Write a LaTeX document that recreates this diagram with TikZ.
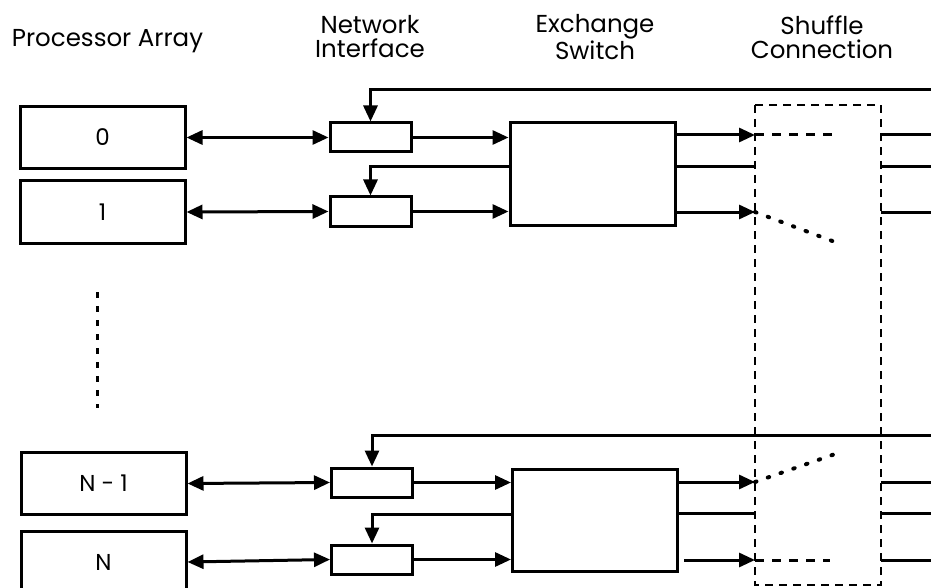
\documentclass[tikz,border=0pt]{standalone}
\usepackage{fontspec}
\setmainfont{Poppins}
\usetikzlibrary{arrows.meta,calc}
\begin{document}
\begin{tikzpicture}[x=1pt,y=-1pt,
  ln/.style={line width=3pt},
  tip/.style={ln,-{Triangle[length=16pt,width=14pt]}},
  both/.style={ln,{Triangle[length=16pt,width=14pt]}-{Triangle[length=16pt,width=14pt]}},
  box/.style={draw,line width=3pt,rectangle,inner sep=0pt},
  proc/.style={box,minimum width=165pt,minimum height=62pt,font=\fontsize{23}{24}\selectfont},
  ni/.style={box,minimum width=81pt,minimum height=29pt},
  sw/.style={box,minimum width=165pt,minimum height=102pt},
  title/.style={font=\fontsize{24.5}{24}\selectfont,align=center,inner sep=0pt},
  dsh/.style={line width=2.8pt,dash pattern=on 8pt off 6pt},
  indsh/.style={line width=3pt,dash pattern=on 9pt off 8pt},
  dotl/.style={line width=4pt,dash pattern=on 1.5pt off 12pt,line cap=round},
  vdot/.style={line width=3pt,dash pattern=on 6pt off 8pt}
]
\useasboundingbox (0,0) rectangle (931,588);
\clip (0,0) rectangle (931,588);

% titles
\node[title,anchor=base] (tPA) at (107.5,47) {Processor Array};
\node[title] (tNI) at (370,37) {Network\\Interface};
\node[title] (tES) at (595,37) {Exchange\\Switch};
\node[title] (tSC) at (822,37) {Shuffle\\Connection};

% processors
\node[proc] (P0) at (102.5,137.5) {0};
\node[proc] (P1) at (102.5,212) {1};
\node[proc] (PN1) at (103.5,483.5) {N - 1};
\node[proc] (PN) at (103.5,562) {N};
\coordinate (dA) at (97,292);
\coordinate (dB) at (97,408);
\draw[vdot] (dA) -- (dB);

% network interfaces
\node[ni] (N0) at (370.5,137.5) {};
\node[ni] (N1) at (370.5,211.5) {};
\node[ni] (NN1) at (372,482.5) {};
\node[ni] (NN) at (372,559.5) {};

% switches
\node[sw] (S0) at (592.5,174) {};
\node[sw] (SN) at (595,520) {};

% shuffle connection box
\coordinate (Ra) at (755,105);
\coordinate (Rb) at (881,585);
\draw[dsh] (Ra) rectangle (Rb);

% processor <-> NI
\draw[both] (P0.east) -- (N0.west);
\draw[both] (P1.east) -- (N1.west);
\draw[both] (PN1.east) -- (NN1.west);
\draw[both] (PN.east) -- (NN.west);

% NI -> switch
\draw[tip] (N0.east) -- (N0.east -| S0.west);
\draw[tip] (N1.east) -- (N1.east -| S0.west);
\draw[tip] (NN1.east) -- (NN1.east -| SN.west);
\draw[tip] (NN.east) -- (NN.east -| SN.west);

% feedback lines
\coordinate (F0) at (931,90);
\coordinate (FN) at (931,435);
\draw[tip] (F0) -| (N0.north);
\draw[tip] (FN) -| (NN1.north);
\coordinate (G0) at ($(S0.north west)!0.43!(S0.south west)$);
\coordinate (GN) at ($(SN.north west)!0.45!(SN.south west)$);
\draw[tip] (G0) -| (N1.north);
\draw[tip] (GN) -| (NN.north);

% switch outputs (top)
\coordinate (a1) at (755,135);
\coordinate (a2) at (755,167);
\coordinate (a3) at (755,212);
\draw[tip] (a1 -| S0.east) -- (a1);
\draw[ln] (a2 -| S0.east) -- (a2);
\draw[tip] (a3 -| S0.east) -- (a3);
\coordinate (r1) at (931,135);
\coordinate (r2) at (931,167);
\coordinate (r3) at (931,212);
\draw[ln] (r1 -| Rb) -- (r1);
\draw[ln] (r2 -| Rb) -- (r2);
\draw[ln] (r3 -| Rb) -- (r3);
\coordinate (i1) at (835,135);
\coordinate (i3) at (835,242);
\draw[indsh] (a1) -- (i1);
\draw[dotl] (a3) -- (i3);

% switch outputs (bottom)
\coordinate (b1) at (755,482);
\coordinate (b2) at (755,513);
\coordinate (b3) at (755,560);
\draw[tip] (b1 -| SN.east) -- (b1);
\draw[ln] (b2 -| SN.east) -- (b2);
\draw[tip] ($(b3 -| SN.east)+(5,0)$) -- (b3);
\coordinate (s1) at (931,482);
\coordinate (s2) at (931,513);
\coordinate (s3) at (931,560);
\draw[ln] (s1 -| Rb) -- (s1);
\draw[ln] (s2 -| Rb) -- (s2);
\draw[ln] (s3 -| Rb) -- (s3);
\coordinate (j1) at (838,453);
\coordinate (j3) at (830,560);
\draw[dotl] (b1) -- (j1);
\draw[indsh] (b3) -- (j3);
\end{tikzpicture}
\end{document}
